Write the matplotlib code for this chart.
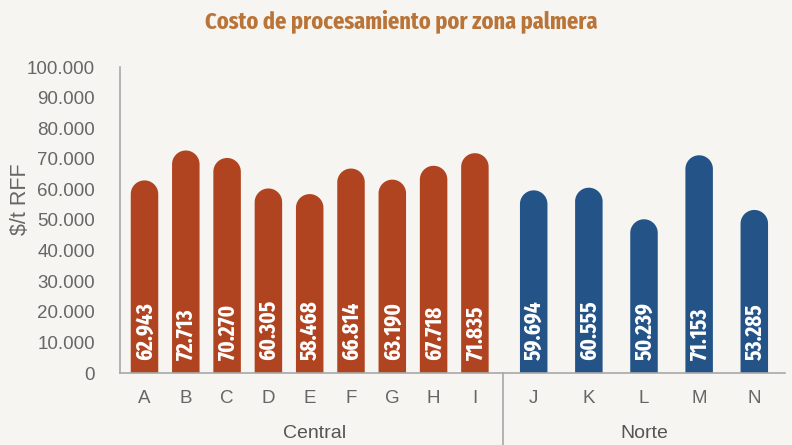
import matplotlib.pyplot as plt
from matplotlib.patches import Polygon
import matplotlib.font_manager as fm
import numpy as np

# data
central_names = ["A", "B", "C", "D", "E", "F", "G", "H", "I"]
central_values = [62943, 72713, 70270, 60305, 58468, 66814, 63190, 67718, 71835]
norte_names = ["J", "K", "L", "M", "N"]
norte_values = [59694, 60555, 50239, 71153, 53285]
group_names = ["Central", "Norte"]
yticks = list(range(0, 100001, 10000))

bg = "#F6F5F1"
red = "#B04420"
blue = "#245487"
gray = "#666666"

# condensed bold face: prefer extra condensed, then condensed, then Liberation Sans bold
def find_face(keys, skip):
    for f in fm.fontManager.ttflist:
        nm = (f.name + " " + f.fname).lower().replace(" ", "").replace("-", "")
        if f.weight in (700, "bold") and any(k in nm for k in keys) and not any(s in nm for s in skip):
            return fm.FontProperties(fname=f.fname)
    return None

cond = find_face(["extracondensed"], ["italic", "semi"])
title_size, val_size = 17.5, 16.5
if cond is None:
    cond = find_face(["condensed", "narrow"], ["italic", "semi", "extra"])
    title_size, val_size = 13.5, 11.5
if cond is None:
    cond = fm.FontProperties(family="Liberation Sans", weight="bold")
    title_size, val_size = 14.5, 9.5
plain = "Liberation Sans"

W, H = 792, 445
fig = plt.figure(figsize=(W / 100, H / 100), dpi=100, facecolor=bg)
x0, x1, y0, y1 = 120, 785, 373, 67
ax = fig.add_axes([x0 / W, 1 - y0 / H, (x1 - x0) / W, (y0 - y1) / H])
ax.set_facecolor(bg)

# x layout in pixel-like units from the left spine
sep = 383.3
c_step = 41.3
c_start = 24.5
n_step = 55.15
n_start = 413.7
bw = 27.5
ax.set_xlim(0, x1 - x0)
ax.set_ylim(0, 100000)
px_y = 100000 / (y0 - y1)
r = bw / 2 * px_y

def draw_bar(xc, v, col):
    t = np.linspace(0, np.pi, 40)
    top = np.column_stack([xc + bw / 2 * np.cos(t), v - r + r * np.sin(t)])
    pts = np.vstack([[xc + bw / 2, 0], top, [xc - bw / 2, 0]])
    ax.add_patch(Polygon(pts, closed=True, facecolor=col, edgecolor="none"))
    lbl = ax.text(xc + 0.5, 13 * px_y, f"{v / 1000:.3f}", rotation=90, ha="center", va="bottom",
                  color="white", fontproperties=cond)
    lbl.set_fontsize(val_size)

xs = []
for i, v in enumerate(central_values):
    xc = c_start + c_step * i
    xs.append(xc)
    draw_bar(xc, v, red)
for j, v in enumerate(norte_values):
    xc = n_start + n_step * j
    xs.append(xc)
    draw_bar(xc, v, blue)

ax.set_xticks(xs)
ax.set_xticklabels(central_names + norte_names, fontsize=13.5, color=gray, family=plain)
ax.tick_params(axis="x", length=0, pad=12)
ax.set_yticks(yticks)
ax.set_yticklabels([f"{t:,}".replace(",", ".") for t in yticks], fontsize=13.5, color=gray, family=plain)
ax.tick_params(axis="y", length=0, pad=18)

for s in ["top", "right"]:
    ax.spines[s].set_visible(False)
for s in ["left", "bottom"]:
    ax.spines[s].set_color("#a8a8a8")
    ax.spines[s].set_linewidth(1.2)

# group separator below axis
ax.plot([sep, sep], [0, -(H - y0) * px_y], color="#a8a8a8", lw=1.2, clip_on=False)
ax.text(sep / 2 + 3, -60 * px_y, group_names[0], ha="center", va="center",
        fontsize=14, color="#555555", family=plain)
ax.text((sep + x1 - x0) / 2, -60 * px_y, group_names[1], ha="center", va="center",
        fontsize=14, color="#555555", family=plain)

fig.text(20 / W, 1 - 199 / H, "$/t RFF", rotation=90, ha="center", va="center",
         fontsize=15.5, color=gray, family=plain)
t = fig.text(401 / W, 1 - 21 / H, "Costo de procesamiento por zona palmera", ha="center", va="center",
             color="#BA7438", fontproperties=cond)
t.set_fontsize(title_size)

fig.savefig("out.png", dpi=100, facecolor=bg)
